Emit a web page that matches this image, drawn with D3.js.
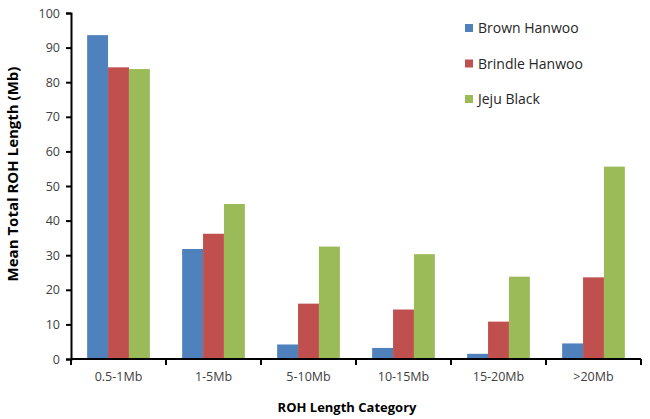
<!DOCTYPE html>
<html>
<head>
<meta charset="utf-8">
<script src="https://cdn.jsdelivr.net/npm/d3@7"></script>
<style>
  body { margin: 0; background: #fff; }
  text { font-family: "Open Sans", sans-serif; }
</style>
</head>
<body>
<div id="chart"></div>
<script>
var categories = ["0.5-1Mb", "1-5Mb", "5-10Mb", "10-15Mb", "15-20Mb", ">20Mb"];
var seriesNames = ["Brown Hanwoo", "Brindle Hanwoo", "Jeju Black"];
var brownHanwoo = [93.6, 31.8, 4.2, 3.2, 1.5, 4.5];
var brindleHanwoo = [84.3, 36.2, 16.0, 14.3, 10.8, 23.6];
var jejuBlack = [83.8, 44.8, 32.5, 30.3, 23.8, 55.6];
var yTicks = [0, 10, 20, 30, 40, 50, 60, 70, 80, 90, 100];
var colors = ["#4F81BD", "#C0504D", "#9BBB59"];

var W = 650, H = 419;
var margin = {left: 71, right: 9, top: 13, bottom: 60};

var svg = d3.select("#chart").append("svg")
    .attr("width", W)
    .attr("height", H);

var x = d3.scaleBand()
    .domain(categories)
    .range([margin.left, W - margin.right])
    .paddingInner(0.34)
    .paddingOuter(0.17);

var y = d3.scaleLinear()
    .domain([0, 100])
    .range([H - margin.bottom, margin.top]);

var xs = d3.scaleBand()
    .domain(seriesNames)
    .range([0, x.bandwidth()]);

var allSeries = [brownHanwoo, brindleHanwoo, jejuBlack];

// bars
allSeries.forEach(function(vals, si) {
    svg.append("g").selectAll("rect")
        .data(vals)
        .enter().append("rect")
        .attr("x", function(d, i) { return x(categories[i]) + xs(seriesNames[si]); })
        .attr("y", function(d) { return y(d); })
        .attr("width", xs.bandwidth())
        .attr("height", function(d) { return y(0) - y(d); })
        .attr("fill", colors[si]);
});

// y axis
var yAxis = svg.append("g")
    .attr("transform", "translate(" + margin.left + ",0)")
    .call(d3.axisLeft(y).tickValues(yTicks).tickSize(5).tickPadding(6));
yAxis.select(".domain").attr("stroke", "#000").attr("stroke-width", 2);
yAxis.selectAll(".tick line").attr("stroke", "#000").attr("stroke-width", 2);
yAxis.selectAll(".tick text").attr("font-size", 12.5).attr("fill", "#404040");

// x axis: ticks between categories
var xAxisG = svg.append("g").attr("transform", "translate(0," + y(0) + ")");
xAxisG.append("line")
    .attr("x1", margin.left).attr("x2", W - margin.right)
    .attr("stroke", "#000").attr("stroke-width", 2);
var step = x.step();
var bounds = d3.range(categories.length + 1).map(function(i) {
    return x(categories[0]) - x.paddingOuter() * step + i * step;
});
xAxisG.selectAll(".xt")
    .data(bounds)
    .enter().append("line")
    .attr("x1", function(d) { return d; })
    .attr("x2", function(d) { return d; })
    .attr("y1", 0).attr("y2", 6)
    .attr("stroke", "#000").attr("stroke-width", 2);
xAxisG.selectAll(".xl")
    .data(categories)
    .enter().append("text")
    .attr("x", function(d) { return x(d) + x.bandwidth() / 2; })
    .attr("y", 22)
    .attr("text-anchor", "middle")
    .attr("font-size", 12.5)
    .attr("fill", "#404040")
    .text(function(d) { return d; });

// axis titles
svg.append("text")
    .attr("x", 347).attr("y", 412)
    .attr("text-anchor", "middle")
    .attr("font-size", 13)
    .attr("font-weight", "bold")
    .attr("fill", "#000")
    .text("ROH Length Category");

svg.append("text")
    .attr("transform", "translate(18,174) rotate(-90)")
    .attr("text-anchor", "middle")
    .attr("font-size", 15)
    .attr("font-weight", "bold")
    .attr("fill", "#000")
    .text("Mean Total ROH Length (Mb)");

// legend
var legend = svg.append("g").attr("transform", "translate(465,28)");
var items = legend.selectAll("g")
    .data(seriesNames)
    .enter().append("g")
    .attr("transform", function(d, i) { return "translate(0," + (i * 35.5) + ")"; });
items.append("rect")
    .attr("x", 0).attr("y", -4)
    .attr("width", 8).attr("height", 8)
    .attr("fill", function(d, i) { return colors[i]; });
items.append("text")
    .attr("x", 13).attr("y", 5)
    .attr("font-size", 14)
    .attr("fill", "#262626")
    .text(function(d) { return d; });
</script>
</body>
</html>
